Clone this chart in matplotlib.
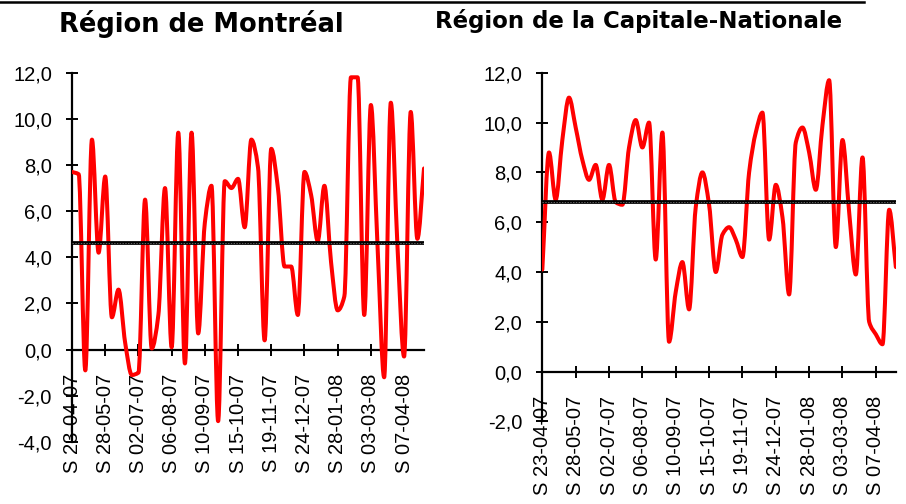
import numpy as np
import matplotlib
matplotlib.use("Agg")
import matplotlib.pyplot as plt
from matplotlib.path import Path
from matplotlib.patches import PathPatch
from matplotlib.lines import Line2D
from matplotlib.ticker import FuncFormatter

# ─── Data ───────────────────────────────────────────────
tick_labels = ["S 23-04-07", "S 28-05-07", "S 02-07-07", "S 06-08-07",
               "S 10-09-07", "S 15-10-07", "S 19-11-07", "S 24-12-07",
               "S 28-01-08", "S 03-03-08", "S 07-04-08"]

montreal = [7.7, 7.6, -0.9, 9.1, 4.2, 7.5, 1.4, 2.6, 0.3, -1.1,
            -1.0, 6.5, 0.05, 1.5, 7.0, 0.1, 9.4, -0.6, 9.4, 0.7,
            5.5, 7.1, -3.1, 7.3, 7.0, 7.4, 5.3, 9.1, 7.9, 0.4,
            8.7, 7.0, 3.6, 3.6, 1.5, 7.7, 6.7, 4.7, 7.1, 3.8,
            1.7, 2.3, 11.8, 11.8, 1.5, 10.6, 4.5, -1.2, 10.7, 4.5,
            -0.3, 10.3, 4.8, 7.85]
montreal_moy = 4.62

capitale = [4.1, 8.8, 6.9, 9.3, 11.0, 9.8, 8.5, 7.7, 8.3, 6.9,
            8.3, 6.8, 6.7, 9.0, 10.1, 9.0, 10.0, 4.5, 9.6, 1.2,
            3.2, 4.4, 2.5, 6.6, 8.0, 6.7, 4.0, 5.5, 5.8, 5.3,
            4.6, 8.0, 9.6, 10.4, 5.3, 7.5, 6.2, 3.1, 9.2, 9.8,
            8.8, 7.3, 9.9, 11.7, 5.0, 9.3, 6.4, 3.9, 8.6, 2.0,
            1.5, 1.1, 6.5, 4.2]
capitale_moy = 6.83

titles = ["Région de Montréal", "Région de la Capitale-Nationale"]

# ─── Style ──────────────────────────────────────────────
plt.rcParams["font.family"] = ["Liberation Sans", "DejaVu Sans"]
label_size = 14.5


def smooth_path(x, y):
    # smoothed line (monotone cubic tangents, drawn as Bezier segments)
    x = np.asarray(x, float)
    y = np.asarray(y, float)
    d = np.diff(y) / np.diff(x)
    m = np.zeros_like(y)
    m[0], m[-1] = d[0], d[-1]
    for i in range(1, len(y) - 1):
        if d[i - 1] * d[i] > 0:
            m[i] = 2 / (1 / d[i - 1] + 1 / d[i])
    verts = [(x[0], y[0])]
    codes = [Path.MOVETO]
    for i in range(len(y) - 1):
        h = x[i + 1] - x[i]
        verts += [(x[i] + h / 3, y[i] + m[i] * h / 3),
                  (x[i + 1] - h / 3, y[i + 1] - m[i + 1] * h / 3),
                  (x[i + 1], y[i + 1])]
        codes += [Path.CURVE4] * 3
    return Path(verts, codes)


def fmt(v, pos):
    return f"{v:.1f}".replace(".", ",")


def draw_panel(ax, values, moyenne, ymin):
    x = np.arange(len(values))
    ax.add_patch(PathPatch(smooth_path(x, values), fill=False,
                           edgecolor="#ff0000", lw=2.9, capstyle="round",
                           joinstyle="round", zorder=3))
    ax.plot(x, [moyenne] * len(x), color="black", lw=2.7, zorder=4)
    ax.plot(x, [moyenne] * len(x), color="#8a8a8a", lw=0.5,
            ls=(0, (2, 2)), zorder=5)

    ax.set_xlim(0, len(values) - 1)
    ax.set_ylim(ymin, 12)
    ax.set_yticks(np.arange(ymin, 12.1, 2))
    ax.yaxis.set_major_formatter(FuncFormatter(fmt))
    ax.set_xticks(x[::5])
    ax.set_xticklabels(tick_labels)

    for s in ["top", "right"]:
        ax.spines[s].set_visible(False)
    ax.spines["bottom"].set_position(("data", 0))
    ax.spines["left"].set_linewidth(1.6)
    ax.spines["bottom"].set_linewidth(1.6)
    ax.tick_params(axis="y", direction="inout", length=9, width=1.4,
                   labelsize=label_size, pad=10)
    ax.tick_params(axis="x", direction="inout", length=9, width=1.4,
                   labelsize=label_size, pad=13, labelrotation=90)
    ax.patch.set_alpha(0)


# ─── Figure ─────────────────────────────────────────────
fig = plt.figure(figsize=(9.06, 5.04), dpi=100)

ax1 = fig.add_axes([0.0795, 0.1232, 0.3885, 0.7326])
draw_panel(ax1, montreal, montreal_moy, -4)

ax2 = fig.add_axes([0.5986, 0.1637, 0.3902, 0.692])
draw_panel(ax2, capitale, capitale_moy, -2)

fig.text(0.222, 0.9365, titles[0], ha="center", va="baseline",
         fontsize=18.5, fontweight="bold", family="DejaVu Sans")
fig.text(0.705, 0.9444, titles[1], ha="center", va="baseline",
         fontsize=16.5, fontweight="bold", family="DejaVu Sans")

# top rule
fig.add_artist(Line2D([0, 0.9536], [0.997, 0.997], color="black", lw=1.8,
                      transform=fig.transFigure))

fig.savefig("out.png", dpi=100)
